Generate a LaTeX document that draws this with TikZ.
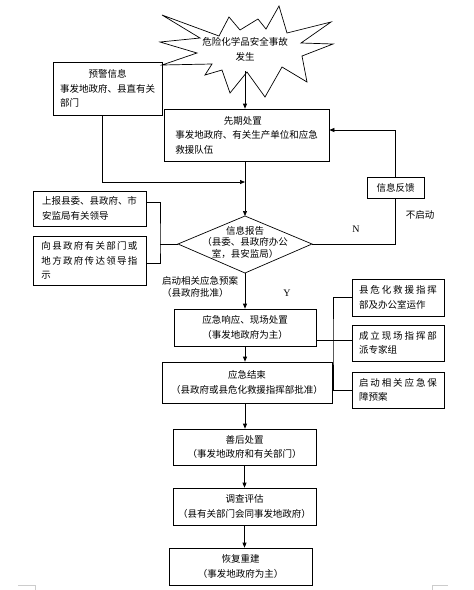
\documentclass[tikz,border=0pt]{standalone}
\usepackage{fontspec}
\setmainfont{Noto Sans CJK SC}
\newfontfamily\latinserif{Liberation Serif}
\usepackage{tikz}
\usetikzlibrary{calc}
\usetikzlibrary{arrows.meta}
\tikzset{flow/.style={rectangle,draw=black,line width=0.7pt,inner sep=0pt,align=left,font=\fontsize{9.5}{14.5}\selectfont}}
\tikzset{plain/.style={inner sep=0pt,font=\fontsize{9.5}{14.5}\selectfont}}
\tikzset{link/.style={line width=0.7pt}}
\tikzset{conn/.style={line width=0.7pt,-{Triangle[length=5pt,width=4pt]}}}
\newcommand{\spreadline}[2]{\makebox[#1][s]{#2}}

\begin{document}
\begin{tikzpicture}[x=1pt,y=-1pt]
\useasboundingbox (0,0) rectangle (474,590);

% burst at the top
\draw[link] (162,15) -- (219,36) -- (229,17) -- (240,30) -- (258,19) -- (266,29) -- (279,6)
  -- (287,33) -- (331,22) -- (301,43) -- (333,44) -- (302,56) -- (307,82) -- (282,67)
  -- (265,97) -- (247,72) -- (230,93) -- (222,70) -- (205,75) -- (212,64) -- (162,65)
  -- (197,53) -- (160,42) -- (200,38) -- cycle;
\node[plain,align=center] (acc) at (245,49.5) {危险化学品安全事故\\发生};
\coordinate (accbot) at (245,71);

\node[flow,minimum width=109pt,minimum height=53pt] (warn) at (107.5,88.5) {\makebox[95pt]{预警信息}\\事发地政府、县直有关\\部门};
\node[flow,minimum width=165pt,minimum height=52pt] (init) at (246.5,135) {\makebox[135pt]{先期处置}\\事发地政府、有关生产单位和应急\\救援队伍};
\node[flow,align=center,minimum width=57pt,minimum height=21pt] (fb) at (395.5,187.5) {信息反馈};

\node[flow,minimum width=113pt,minimum height=35pt] (rep1) at (89.5,208.5) {上报县委、县政府、市\\安监局有关领导};
\node[flow,minimum width=113pt,minimum height=49pt] (rep2) at (89.5,260.5) {\spreadline{96pt}{向\hfil 县\hfil 政\hfil 府\hfil 有\hfil 关\hfil 部\hfil 门\hfil 或}\\\spreadline{96pt}{地\hfil 方\hfil 政\hfil 府\hfil 传\hfil 达\hfil 领\hfil 导\hfil 指}\\示};

% decision
\coordinate (dN) at (245,216);
\coordinate (dE) at (312,244);
\coordinate (dS) at (245,273);
\coordinate (dW) at (178,244);
\draw[link] (dN) -- (dE) -- (dS) -- (dW) -- cycle;
\node[plain,align=center,font=\fontsize{9.5}{11.5}\selectfont] (report) at (245,242) {信息报告\\（县委、县政府办公\\室，县安监局）};

\node[plain,align=left,anchor=west,font=\fontsize{9.5}{11.5}\selectfont] (start) at (162,287) {启动相关应急预案\\（县政府批准）};
\node[plain,font=\latinserif\fontsize{10}{12}\selectfont] (yes) at (287,293) {Y};
\node[plain,font=\latinserif\fontsize{10}{12}\selectfont] (no) at (356,229) {N};
\node[plain] (nostart) at (420,215) {不启动};

\node[flow,align=center,minimum width=142pt,minimum height=37pt] (resp) at (245,327.5) {应急响应、现场处置\\（事发地政府为主）};
\node[flow,align=center,minimum width=170pt,minimum height=41pt] (close) at (247,382.5) {应急结束\\（县政府或县危化救援指挥部批准）};

\node[flow,minimum width=92pt,minimum height=37pt] (cmd) at (398,297.5) {\spreadline{78pt}{县\hfil 危\hfil 化\hfil 救\hfil 援\hfil 指\hfil 挥}\\部及办公室运作};
\node[flow,minimum width=92pt,minimum height=36pt] (site) at (398,343) {\spreadline{78pt}{成\hfil 立\hfil 现\hfil 场\hfil 指\hfil 挥\hfil 部}\\派专家组};
\node[flow,minimum width=92pt,minimum height=36pt] (plan) at (398,390) {\spreadline{78pt}{启\hfil 动\hfil 相\hfil 关\hfil 应\hfil 急\hfil 保}\\障预案};

\node[flow,align=center,minimum width=143pt,minimum height=36pt] (after) at (244.5,447) {善后处置\\（事发地政府和有关部门）};
\node[flow,align=center,minimum width=143pt,minimum height=37pt] (invest) at (244.5,506.5) {调查评估\\（县有关部门会同事发地政府）};
\node[flow,align=center,minimum width=143pt,minimum height=37pt] (rebuild) at (240.5,566.5) {恢复重建\\（事发地政府为主）};

% connectors
\coordinate (join) at (245,182);
\coordinate (lbrk) at (160,244);
\coordinate (rbrk) at (333,340);
\draw[conn] (accbot) -- (accbot |- init.north);
\draw[conn] ($(warn.south)+(-5,0)$) |- (join);
\draw[conn] (dN |- init.south) -- (dN);
\draw[conn] (fb.north) |- ($(init.east)+(0,-5)$);
\draw[link] (dE) -| (fb.south);
\draw[link] ($(rep1.east)+(0,-6)$) -| (lbrk) |- ($(rep2.east)+(0,3)$);
\draw[link] (lbrk) -- (dW);
\draw[conn] (dS) -- (dS |- resp.north);
\draw[conn] (resp.south) -- (resp.south |- close.north);
\draw[link] (cmd.west) -| (rbrk) |- (plan.west);
\draw[link] (resp.east |- rbrk) -- (site.west |- rbrk);
\draw[conn] (resp.south |- close.south) -- (resp.south |- after.north);
\draw[conn] (after.south) -- (invest.north);
\draw[conn] (invest.south) -- (invest.south |- rebuild.north);

% page corner marks
\draw[gray!40,line width=0.6pt] (18,585) -- (35,585) -- (35,590);
\draw[gray!40,line width=0.6pt] (432,590) -- (432,585) -- (448,585);
\end{tikzpicture}
\end{document}
